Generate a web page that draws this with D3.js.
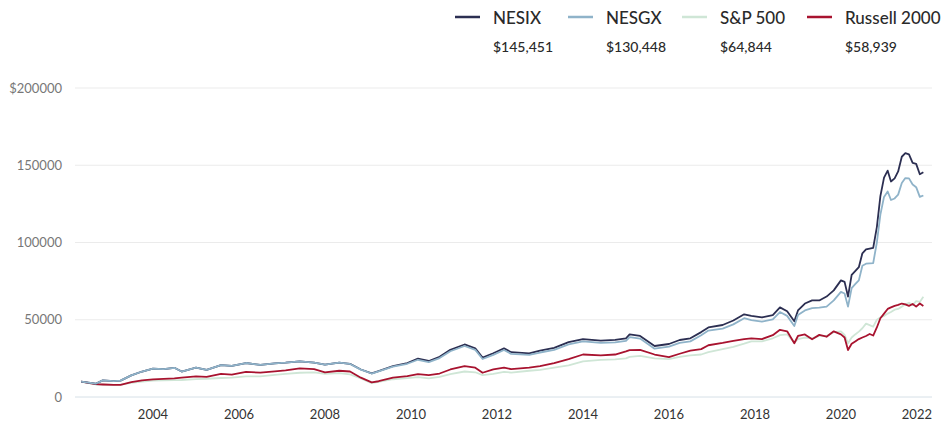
<!DOCTYPE html>
<html>
<head>
<meta charset="utf-8">
<script src="https://cdn.jsdelivr.net/npm/d3@7"></script>
<style>
  body { margin: 0; background: #fff; font-family: Lato, "Open Sans", sans-serif; }
</style>
</head>
<body>
<div id="chart"></div>
<script>
// Month of each reading (growth of $10,000)
const dates = [
  '2002-05','2002-09','2002-11','2003-02','2003-04','2003-07','2003-10',
  '2004-01','2004-04','2004-07','2004-09','2005-01','2005-04','2005-08','2005-11',
  '2006-03','2006-07','2006-11','2007-02','2007-06','2007-10',
  '2008-01','2008-05','2008-08','2008-11','2009-02','2009-04','2009-08','2009-12',
  '2010-03','2010-06','2010-09','2010-12','2011-04','2011-07','2011-09','2011-12',
  '2012-03','2012-05','2012-10','2013-01','2013-05','2013-09',
  '2014-01','2014-06','2014-10','2015-01','2015-02','2015-05','2015-09',
  '2016-01','2016-04','2016-07','2016-10','2016-12','2017-04','2017-07','2017-10','2017-12',
  '2018-03','2018-06','2018-08','2018-10','2018-12',
  '2019-01','2019-03','2019-05','2019-07','2019-09','2019-11',
  '2020-01','2020-02','2020-03','2020-04','2020-05','2020-06','2020-07','2020-08','2020-09','2020-10','2020-11','2020-12',
  '2021-01','2021-02','2021-03','2021-04','2021-05','2021-06','2021-07','2021-08','2021-09','2021-10','2021-11','2021-12'
];

const nesix = [
  10000, 8600, 10800, 10300, 10600, 14000, 16500,
  18300, 18000, 18900, 16500, 19000, 17600, 20600, 20200,
  22000, 20800, 21800, 22200, 23100, 22300,
  21000, 22200, 21500, 17800, 15300, 16800, 20000, 22000,
  24800, 23300, 26000, 30500, 34000, 31500, 25500, 28300,
  31500, 29000, 28300, 30000, 31800, 35500,
  37500, 36500, 37000, 38000, 40500, 39500, 33000,
  34300, 36900, 38000, 42000, 45000, 46600, 49500, 53500, 52500,
  51500, 53000, 58000, 55500, 49000,
  56000, 60500, 62500, 62500, 65000, 69000,
  75500, 74500, 65000, 79000, 81500, 84000, 93000, 95500, 96000, 96500, 110000, 130000,
  142000, 146500, 139500, 141500, 146000, 155500, 157800, 157000, 151500, 150900, 144200, 145451
];

const nesgx = [
  10000, 8600, 10800, 10300, 10600, 14000, 16500,
  18300, 18000, 18900, 16500, 19000, 17600, 20600, 20200,
  22000, 20800, 21800, 22200, 23100, 22300,
  21000, 22200, 21400, 17700, 15200, 16600, 19600, 21500,
  24100, 22600, 25200, 29600, 33000, 30500, 24600, 27300,
  30400, 27900, 27200, 28800, 30500, 34100,
  36000, 35000, 35300, 36300, 38800, 37800, 31300,
  32600, 35000, 36000, 40000, 43000, 44300, 47000, 51000, 49800,
  48800, 50300, 55000, 52500, 46000,
  53000, 56000, 57500, 57800, 58500, 62500,
  68000, 67000, 58500, 70500, 73000, 75500, 85000, 86300, 86500, 86700, 100000, 118000,
  129500, 133000, 127500, 128500, 131000, 138500, 141700, 141500, 137500, 135800, 129500, 130448
];

const sp500 = [
  10000, 8100, 8200, 7800, 8000, 9100, 9900,
  10600, 10700, 10900, 11000, 11600, 11800, 12300, 12600,
  13300, 13400, 14300, 15000, 15700, 15900,
  15000, 15400, 14700, 12000, 9000, 9800, 11500, 12200,
  12800, 12000, 13000, 14800, 16500, 16000, 14200, 15000,
  16300, 15800, 17000, 17500, 19000, 20500,
  23000, 24000, 24400, 25000, 26000, 26600, 25000,
  24500, 26000, 27000, 27500, 29000, 31000, 32500, 34500, 36000,
  36000, 38000, 40000, 40500, 35200,
  37500, 38500, 38000, 39500, 39500, 42000,
  42500, 40200, 34800, 38500, 40500, 42300, 44500, 47500, 46500, 45500, 50000, 51500,
  52500, 54000, 55000, 56500, 57000, 58500, 60000, 61000, 59500, 62000, 61500, 64844
];

const russell = [
  10000, 8300, 8100, 7800, 7900, 9600, 10800,
  11400, 11700, 12100, 12500, 13300, 13000, 15000, 14500,
  16200, 15800, 16600, 17300, 18500, 18000,
  16000, 17000, 16500, 12500, 9500, 10200, 12500, 13500,
  14800, 14200, 15200, 17800, 20000, 19000, 15700, 17900,
  19000, 18000, 19000, 20000, 22000, 24500,
  27500, 27000, 27500, 29500, 30300, 30500, 27500,
  25800, 28000, 30000, 31000, 33500, 35000, 36300, 37500, 38000,
  37500, 40000, 43500, 42500, 34800,
  39500, 40500, 37400, 40200, 39000, 42500,
  40500, 38500, 30400, 34500, 36000, 37500, 38500, 39500, 40800, 39800, 45000, 51000,
  54000, 57000, 58000, 59000, 59600, 60500, 60000, 59000, 60200, 58500, 60500, 58939
];

const seriesNames = ['NESIX', 'NESGX', 'S&P 500', 'Russell 2000'];
const endValues = ['$145,451', '$130,448', '$64,844', '$58,939'];
const colors = ['#2c2f52', '#8fb3c9', '#cfe6d6', '#a8132f'];
const yTicks = [0, 50000, 100000, 150000, 200000];
const xTickYears = [2004, 2006, 2008, 2010, 2012, 2014, 2016, 2018, 2020, 2022];

const width = 946;
const height = 421;
const parse = d3.timeParse('%Y-%m');
const series = [nesix, nesgx, sp500, russell];

const svg = d3.select('#chart').append('svg')
  .attr('width', width)
  .attr('height', height);

const x = d3.scaleTime()
  .domain([new Date(2002, 0, 1), new Date(2022, 0, 1)])
  .range([67, 927]);

const y = d3.scaleLinear()
  .domain([0, 200000])
  .range([397, 88]);

// grid lines + y labels
svg.append('g').selectAll('line')
  .data(yTicks)
  .enter()
  .append('line')
  .attr('x1', 75)
  .attr('x2', 932)
  .attr('y1', d => y(d))
  .attr('y2', d => y(d))
  .attr('stroke', d => d === 0 ? '#d6e0e7' : '#ebebeb')
  .attr('stroke-width', 1);

svg.append('g').selectAll('text')
  .data(yTicks)
  .enter()
  .append('text')
  .attr('x', 62)
  .attr('y', d => y(d))
  .attr('dy', '0.35em')
  .attr('text-anchor', 'end')
  .attr('font-size', 13)
  .attr('fill', '#777')
  .text(d => d === 200000 ? '$' + d : d);

// x labels
svg.append('g').selectAll('text')
  .data(xTickYears)
  .enter()
  .append('text')
  .attr('x', d => d === 2022 ? 932 : x(new Date(d, 0, 1)))
  .attr('y', 414)
  .attr('dy', '0.35em')
  .attr('text-anchor', d => d === 2022 ? 'end' : 'middle')
  .attr('font-size', 13)
  .attr('fill', '#333')
  .text(d => d);

// lines, drawn back to front
const drawOrder = [2, 3, 0, 1];
drawOrder.forEach(i => {
  const line = d3.line()
    .x((d, j) => x(parse(dates[j])))
    .y(d => y(d));
  svg.append('path')
    .datum(series[i])
    .attr('fill', 'none')
    .attr('stroke', colors[i])
    .attr('stroke-width', 1.8)
    .attr('stroke-linejoin', 'round')
    .attr('d', line);
});

// legend
const legendX = [455, 568, 682, 807];
const legend = svg.append('g').selectAll('g')
  .data(seriesNames)
  .enter()
  .append('g')
  .attr('transform', (d, i) => `translate(${legendX[i]},0)`);

legend.append('line')
  .attr('x1', 0)
  .attr('x2', 25)
  .attr('y1', 17)
  .attr('y2', 17)
  .attr('stroke', (d, i) => colors[i])
  .attr('stroke-width', 2.5);

legend.append('text')
  .attr('x', 38)
  .attr('y', 24)
  .attr('font-size', 17)
  .attr('font-weight', 500)
  .attr('fill', '#2a2a2a')
  .text(d => d);

legend.append('text')
  .attr('x', 38)
  .attr('y', 52)
  .attr('font-size', 14)
  .attr('font-weight', 500)
  .attr('fill', '#2a2a2a')
  .text((d, i) => endValues[i]);
</script>
</body>
</html>
